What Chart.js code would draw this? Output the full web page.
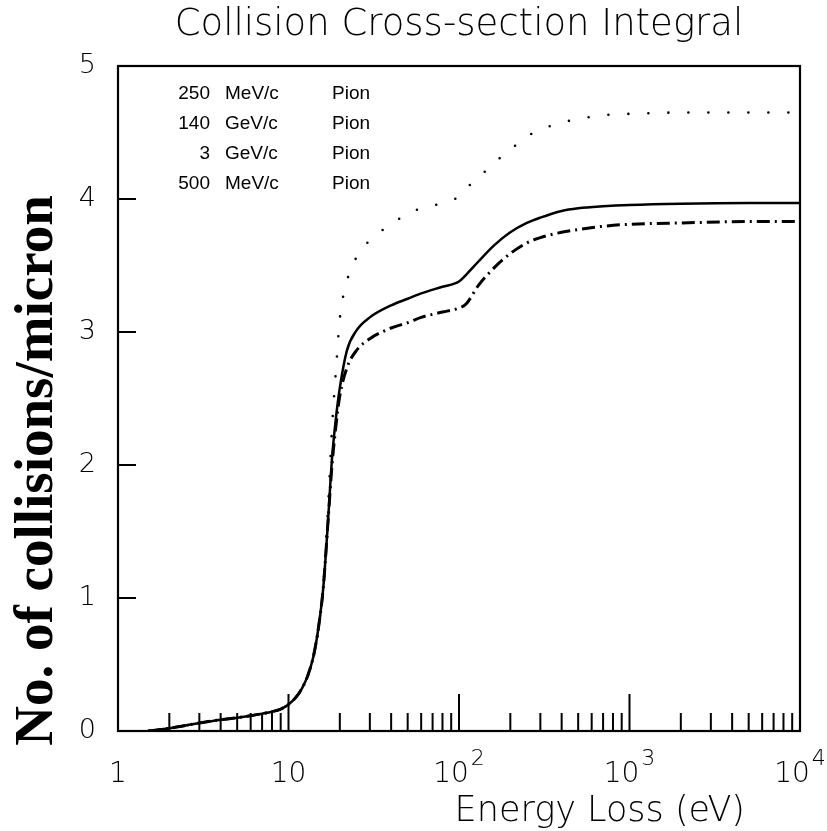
<!DOCTYPE html>
<html>
<head>
<meta charset="utf-8">
<script src="https://cdn.jsdelivr.net/npm/chart.js@4.4.1/dist/chart.umd.min.js"></script>
<style>
  html, body { margin: 0; padding: 0; background: #fff; }
  #wrap { width: 827px; height: 831px; }
</style>
</head>
<body>
<div id="wrap"><canvas id="chart" width="827" height="831"></canvas></div>
<script>
// energy loss grid (eV), shared by all curves
const energyEv = [1.5, 2, 3, 4, 5, 6, 7, 8, 9, 10, 11, 12, 13, 14, 15, 16, 17, 18, 19, 20,
                  22, 25, 30, 40, 50, 60, 80, 100, 110, 130, 160, 200, 250, 300, 400, 500,
                  700, 1000, 2000, 5000, 10000];

const solidCurve = [0, 0.02, 0.06, 0.085, 0.10, 0.115, 0.13, 0.145, 0.165, 0.20, 0.25, 0.32, 0.42, 0.56, 0.78, 1.08, 1.55, 2.05, 2.36, 2.58,
                    2.86, 3.01, 3.11, 3.20, 3.25, 3.29, 3.34, 3.38, 3.43, 3.53, 3.65, 3.75, 3.82, 3.86, 3.91, 3.93,
                    3.945, 3.955, 3.965, 3.97, 3.97];

const dashDotCurve = [0, 0.02, 0.06, 0.085, 0.10, 0.115, 0.13, 0.145, 0.165, 0.20, 0.25, 0.32, 0.42, 0.56, 0.78, 1.08, 1.55, 2.0, 2.3, 2.52,
                      2.73, 2.86, 2.95, 3.03, 3.07, 3.11, 3.15, 3.18, 3.21, 3.35, 3.48, 3.59, 3.67, 3.71, 3.75, 3.77,
                      3.795, 3.81, 3.82, 3.83, 3.83];

const dottedCurve = [0, 0.02, 0.06, 0.085, 0.10, 0.115, 0.13, 0.145, 0.165, 0.20, 0.25, 0.32, 0.42, 0.56, 0.78, 1.10, 1.65, 2.28, 2.72, 3.1,
                     3.38, 3.56, 3.69, 3.81, 3.89, 3.93, 3.97, 4.02, 4.08, 4.16, 4.27, 4.37, 4.47, 4.52, 4.575, 4.60,
                     4.63, 4.64, 4.65, 4.65, 4.65];

const legendNumbers = ['250', '140', '3', '500'];
const legendUnits = ['MeV/c', 'GeV/c', 'GeV/c', 'MeV/c'];
const legendParticle = ['Pion', 'Pion', 'Pion', 'Pion'];

const xLabelValues = [1, 10, 100, 1000, 10000];
const xLabelBase = ['1', '10', '10', '10', '10'];
const xLabelExp = ['', '', '2', '3', '4'];
const xMajorTicks = [10, 100, 1000];
const tickMantissa = [2, 3, 4, 5, 6, 7, 8, 9];
const tickDecades = [1, 10, 100, 1000];
const yTickValues = [1, 2, 3, 4];

const thinFont = '"DejaVu Sans"';

function pts(ys) {
    return energyEv.map((e, i) => ({ x: e, y: ys[i] }));
}

const paperPlugin = {
    id: 'paper',
    afterDatasetsDraw(chart) {
        const { ctx, chartArea: a, scales: { x, y } } = chart;
        ctx.save();
        ctx.strokeStyle = '#000';
        ctx.lineWidth = 2;
        ctx.beginPath();
        // inward ticks along the bottom
        tickDecades.forEach(d => {
            tickMantissa.forEach(m => {
                const px = x.getPixelForValue(m * d);
                ctx.moveTo(px, a.bottom);
                ctx.lineTo(px, a.bottom - 18);
            });
        });
        xMajorTicks.forEach(v => {
            const px = x.getPixelForValue(v);
            ctx.moveTo(px, a.bottom);
            ctx.lineTo(px, a.bottom - 37);
        });
        // inward ticks along the left side
        yTickValues.forEach(v => {
            const py = y.getPixelForValue(v);
            ctx.moveTo(a.left, py);
            ctx.lineTo(a.left + 18, py);
        });
        ctx.stroke();
        ctx.lineWidth = 2.2;
        ctx.strokeRect(a.left, a.top, a.right - a.left, a.bottom - a.top);
        ctx.restore();
    },
    afterDraw(chart) {
        const { ctx, chartArea: a, scales: { x } } = chart;
        ctx.save();
        ctx.fillStyle = '#000';
        ctx.textBaseline = 'alphabetic';

        // x tick labels with superscript exponents
        xLabelValues.forEach((v, i) => {
            const px = x.getPixelForValue(v);
            ctx.font = `200 28px ${thinFont}`;
            const bw = ctx.measureText(xLabelBase[i]).width;
            ctx.font = `200 22px ${thinFont}`;
            const ew = xLabelExp[i] ? ctx.measureText(xLabelExp[i]).width + 2 : 0;
            const start = px - (bw + ew) / 2;
            ctx.textAlign = 'left';
            ctx.font = `200 28px ${thinFont}`;
            ctx.fillText(xLabelBase[i], start, a.bottom + 51);
            if (xLabelExp[i]) {
                ctx.font = `200 22px ${thinFont}`;
                ctx.fillText(xLabelExp[i], start + bw + 2, a.bottom + 34);
            }
        });

        // x axis title, right of centre as in the original
        ctx.font = `200 35px ${thinFont}`;
        ctx.textAlign = 'right';
        ctx.fillText('Energy Loss (eV)', a.right - 55, a.bottom + 90);

        // y axis title, bold serif, rotated
        ctx.save();
        ctx.translate(38, (a.top + a.bottom) / 2 + 72);
        ctx.rotate(-Math.PI / 2);
        ctx.textAlign = 'center';
        ctx.textBaseline = 'middle';
        ctx.font = 'bold 55px "Liberation Serif", "Times New Roman", serif';
        ctx.fillText('No. of collisions/micron', 0, 0);
        ctx.restore();

        // legend block (text only)
        ctx.font = '19px "Liberation Sans", Arial, sans-serif';
        legendNumbers.forEach((n, i) => {
            const by = a.top + 33 + i * 30;
            ctx.textAlign = 'right';
            ctx.fillText(n, a.left + 92, by);
            ctx.textAlign = 'left';
            ctx.fillText(legendUnits[i], a.left + 107, by);
            ctx.fillText(legendParticle[i], a.left + 214, by);
        });
        ctx.restore();
    }
};

const lineCommon = {
    borderColor: '#000',
    pointRadius: 0,
    fill: false,
    cubicInterpolationMode: 'monotone'
};

new Chart(document.getElementById('chart').getContext('2d'), {
    type: 'line',
    data: {
        datasets: [
            Object.assign({ label: 'solid', data: pts(solidCurve), borderWidth: 2.5 }, lineCommon),
            Object.assign({ label: 'dash-dot', data: pts(dashDotCurve), borderWidth: 3, borderDash: [13, 5, 2, 5] }, lineCommon),
            Object.assign({ label: 'dotted', data: pts(dottedCurve), borderWidth: 2.6, borderDash: [0, 20], borderCapStyle: 'round' }, lineCommon)
        ]
    },
    options: {
        responsive: false,
        animation: false,
        layout: { padding: { left: 0, right: 27, top: 0, bottom: 0 } },
        plugins: {
            legend: { display: false },
            tooltip: { enabled: false },
            title: {
                display: true,
                fullSize: false,
                text: 'Collision Cross-section Integral',
                color: '#000',
                font: { family: thinFont, size: 37, weight: 200, lineHeight: 1.2 },
                padding: { top: 3, bottom: 18.6 },
                align: 'center'
            }
        },
        scales: {
            x: {
                type: 'logarithmic',
                min: 1,
                max: 10000,
                grid: { display: false },
                border: { display: false },
                ticks: { display: false },
                afterFit: s => { s.height = 100; }
            },
            y: {
                type: 'linear',
                min: 0,
                max: 5,
                grid: { display: false },
                border: { display: false },
                ticks: {
                    stepSize: 1,
                    color: '#000',
                    padding: 14,
                    font: { family: thinFont, size: 27, weight: 200 }
                },
                afterFit: s => { s.width = 118; }
            }
        }
    },
    plugins: [paperPlugin]
});
</script>
</body>
</html>
